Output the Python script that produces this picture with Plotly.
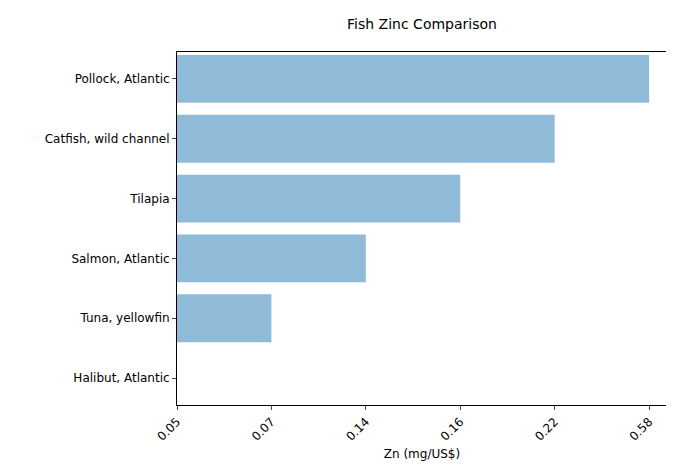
import plotly.graph_objects as go

# fish names and zinc per dollar, in display order (bottom to top)
fish = ["Halibut, Atlantic", "Tuna, yellowfin", "Salmon, Atlantic",
        "Tilapia", "Catfish, wild channel", "Pollock, Atlantic"]
zinc = [0.05, 0.07, 0.14, 0.16, 0.22, 0.58]
tick_text = ["0.05", "0.07", "0.14", "0.16", "0.22", "0.58"]

# bars are drawn by rank, labels show the actual value
rank = list(range(len(zinc)))

fig = go.Figure(go.Bar(
    x=rank, y=fish, orientation="h", width=0.8,
    marker=dict(color="rgba(31,119,180,0.5)", line=dict(width=0)),
))

font = dict(family="DejaVu Sans", size=12, color="black")
fig.update_layout(
    width=674, height=470,
    margin=dict(l=169, r=15, t=44, b=73),
    plot_bgcolor="white", paper_bgcolor="white",
    font=font, showlegend=False,
    title=dict(text="Fish Zinc Comparison", x=(169 + 659) / 2 / 674,
               xanchor="center", y=1 - 16 / 470, yanchor="middle",
               font=dict(family="DejaVu Sans", size=14, color="black")),
)
fig.update_xaxes(
    range=[0, 5.19], tickvals=rank, ticktext=tick_text, tickangle=-45,
    showgrid=False, zeroline=False, showline=True, linecolor="black",
    linewidth=1, mirror=True, ticks="outside", ticklen=4, automargin=False,
    title=dict(text="Zn (mg/US$)", font=font, standoff=6),
)
fig.update_yaxes(
    range=[-0.45, 5.45], showgrid=False, zeroline=False, showline=True,
    linecolor="black", linewidth=1, mirror=True, ticks="outside", ticklen=4,
    automargin=False,
)

fig.write_html("out.html")
